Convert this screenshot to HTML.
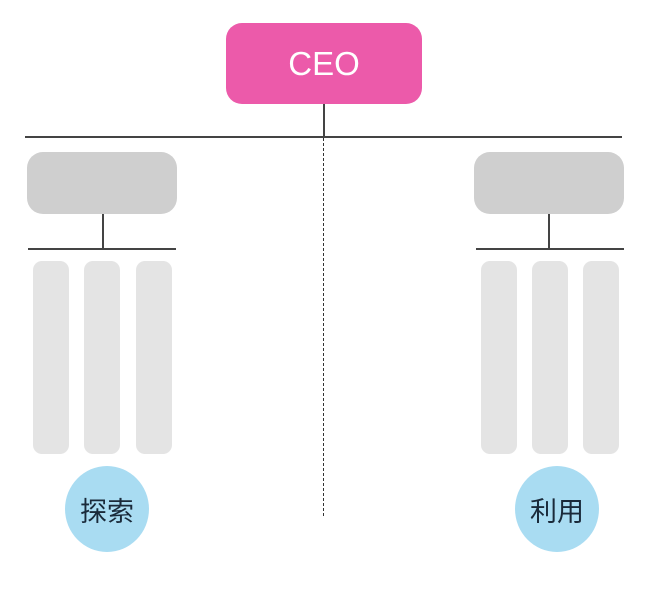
<!DOCTYPE html>
<html><head><meta charset="utf-8"><style>
body{margin:0;width:654px;height:594px;background:#fff;overflow:hidden;position:relative;font-family:"Liberation Sans","Noto Sans CJK SC",sans-serif}
div{position:absolute;box-sizing:border-box}
.g{background:#cfcfcf;border-radius:16px}
.c{background:#e4e4e4;border-radius:9px;top:261px;height:193px;width:36px}
.l{background:#444}
.o{background:#a9dcf2;border-radius:50%;width:84px;height:86px;top:466px;display:flex;align-items:center;justify-content:center;font-size:27px;color:#1a2a3a}
</style></head><body>
<div style="left:226px;top:23px;width:196px;height:81px;background:#ec5aaa;border-radius:16px;color:#fff;font-size:33px;display:flex;align-items:center;justify-content:center">CEO</div>
<div class="l" style="left:323px;top:104px;width:2px;height:33px"></div>
<div class="l" style="left:25px;top:136px;width:597px;height:2px"></div>
<div style="left:323px;top:138px;height:378px;width:0;border-left:1.5px dashed #333"></div>
<div class="g" style="left:27px;top:152px;width:150px;height:62px"></div>
<div class="g" style="left:474px;top:152px;width:150px;height:62px"></div>
<div class="l" style="left:102px;top:214px;width:2px;height:34px"></div>
<div class="l" style="left:548px;top:214px;width:2px;height:34px"></div>
<div class="l" style="left:28px;top:248px;width:148px;height:2px"></div>
<div class="l" style="left:476px;top:248px;width:148px;height:2px"></div>
<div class="c" style="left:33px"></div>
<div class="c" style="left:84px"></div>
<div class="c" style="left:136px"></div>
<div class="c" style="left:481px"></div>
<div class="c" style="left:532px"></div>
<div class="c" style="left:583px"></div>
<div class="o" style="left:65px">探索</div>
<div class="o" style="left:515px">利用</div>
</body></html>
